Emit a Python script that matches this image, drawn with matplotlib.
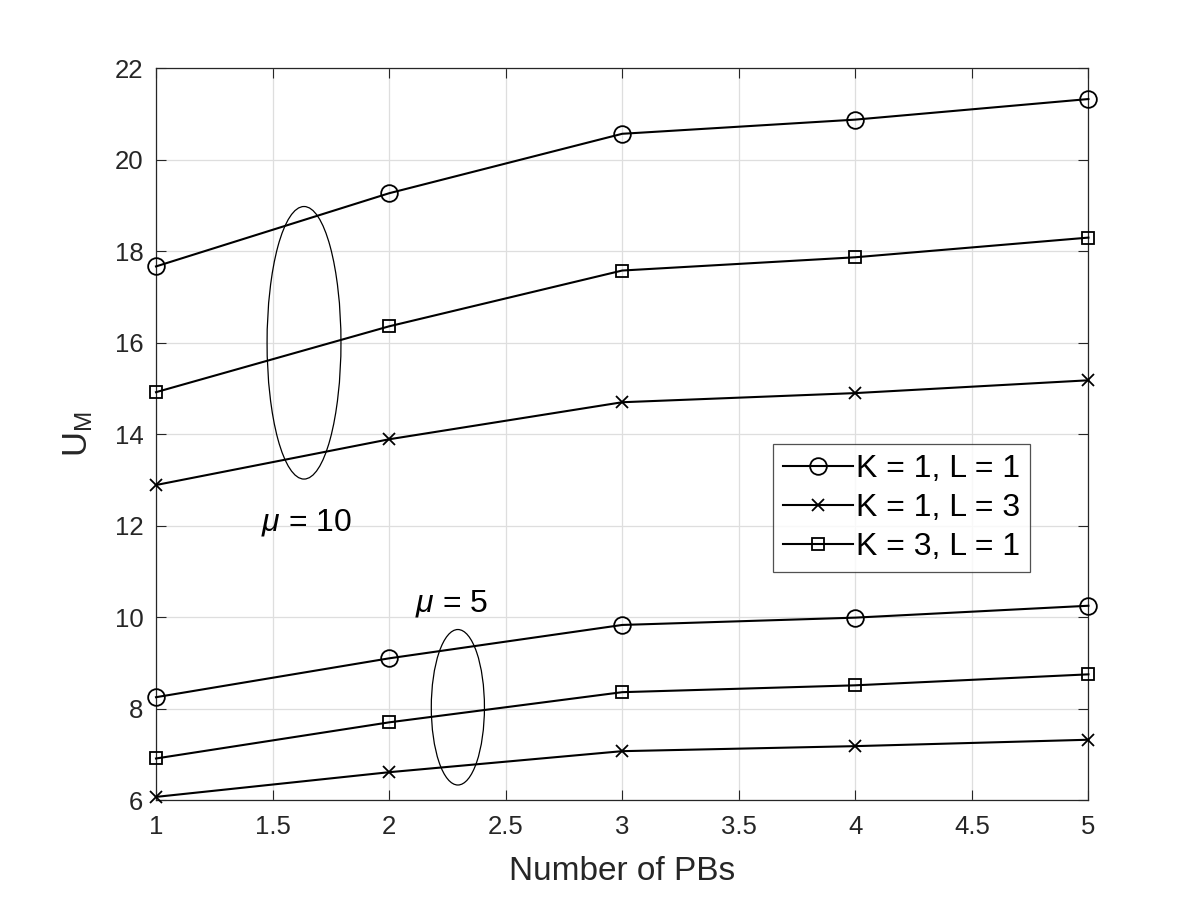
import matplotlib
matplotlib.use("Agg")
import matplotlib.pyplot as plt
from matplotlib.patches import Ellipse

plt.rcParams['font.family'] = ['Liberation Sans', 'DejaVu Sans']
plt.rcParams['mathtext.fontset'] = 'custom'
plt.rcParams['mathtext.rm'] = 'Liberation Sans'
plt.rcParams['mathtext.it'] = 'Liberation Sans:italic'

# data
pbs = [1, 2, 3, 4, 5]
mu10_k1l1 = [17.67, 19.27, 20.57, 20.88, 21.33]
mu10_k1l3 = [12.89, 13.89, 14.70, 14.90, 15.18]
mu10_k3l1 = [14.92, 16.36, 17.58, 17.87, 18.30]
mu5_k1l1 = [8.25, 9.10, 9.83, 9.99, 10.25]
mu5_k1l3 = [6.07, 6.61, 7.07, 7.18, 7.32]
mu5_k3l1 = [6.91, 7.70, 8.36, 8.51, 8.75]

labels = ['K = 1, L = 1', 'K = 1, L = 3', 'K = 3, L = 1']

fig = plt.figure(figsize=(12, 9), dpi=100)
ax = fig.add_axes([0.13, 0.111, 0.777, 0.813])

lw = 1.5
kw = dict(lw=lw, mew=1.3, clip_on=False, zorder=3)
h1, = ax.plot(pbs, mu10_k1l1, 'k-o', ms=12, mfc='none', label=labels[0], **kw)
h2, = ax.plot(pbs, mu10_k1l3, 'k-x', ms=9, label=labels[1], **kw)
h3, = ax.plot(pbs, mu10_k3l1, 'k-s', ms=9, mfc='none', label=labels[2], **kw)
ax.plot(pbs, mu5_k1l1, 'k-o', ms=12, mfc='none', **kw)
ax.plot(pbs, mu5_k1l3, 'k-x', ms=9, **kw)
ax.plot(pbs, mu5_k3l1, 'k-s', ms=9, mfc='none', **kw)

# grouping ellipses and labels
ax.add_patch(Ellipse((1.635, 16.0), 0.317, 5.96, fill=False, ec='k', lw=0.9))
ax.add_patch(Ellipse((2.295, 8.03), 0.228, 3.4, fill=False, ec='k', lw=0.9))
ax.text(1.45, 12.07, r'$\mu$ = 10', fontsize=23, va='center', ha='left')
ax.text(2.11, 10.3, r'$\mu$ = 5', fontsize=23, va='center', ha='left')

ax.set_xlim(1, 5)
ax.set_ylim(6, 22)
ax.set_xticks([1, 1.5, 2, 2.5, 3, 3.5, 4, 4.5, 5])
ax.set_xticklabels(['1', '1.5', '2', '2.5', '3', '3.5', '4', '4.5', '5'])
ax.set_yticks(range(6, 23, 2))
ax.grid(True, color='#dedede', lw=0.9)
ax.set_axisbelow(True)
ax.tick_params(direction='in', top=True, right=True, labelsize=18.5, length=7,
               colors='#262626', labelcolor='#262626')
ax.tick_params(axis='x', pad=11)
ax.tick_params(axis='y', pad=9)
for s in ax.spines.values():
    s.set_color('#262626')
    s.set_linewidth(0.9)

ax.set_xlabel('Number of PBs', fontsize=24, color='#262626', labelpad=12)
ax.set_ylabel(r'$\mathrm{U_M}$', fontsize=25, color='#262626', labelpad=14)

leg = ax.legend(handles=[h1, h2, h3], loc='upper left', bbox_to_anchor=(0.662, 0.486),
                fontsize=23, frameon=True, fancybox=False, edgecolor='#262626',
                handlelength=2.2, handletextpad=0.1, borderpad=0.3, labelspacing=0.28,
                borderaxespad=0)
leg.get_frame().set_linewidth(0.9)

fig.savefig('out.png', dpi=100, facecolor='white')
